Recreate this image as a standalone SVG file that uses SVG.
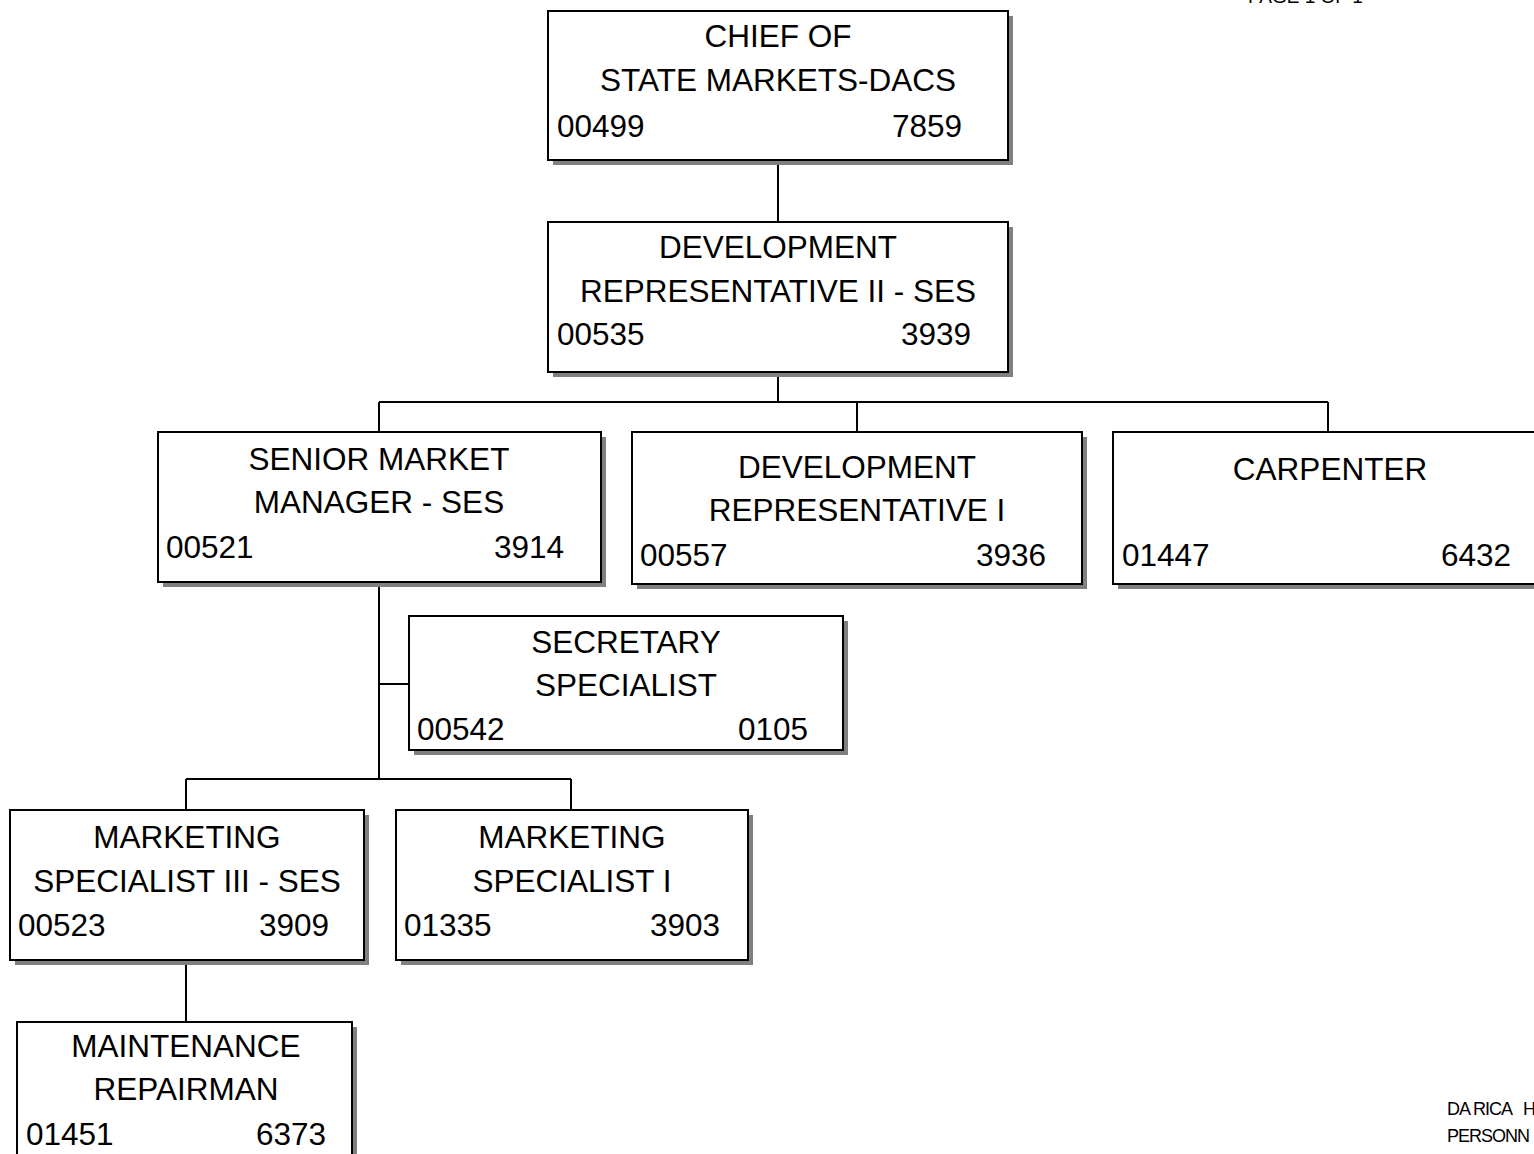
<svg xmlns="http://www.w3.org/2000/svg" width="1534" height="1154" viewBox="0 0 1534 1154">
  <style>
    .box { fill: #ffffff; stroke: #000000; stroke-width: 2; }
    .shadow { fill: #808080; }
    .t { font-family: "Liberation Sans", Arial, sans-serif; font-size: 31.5px; fill: #000000; }
    .c { text-anchor: middle; }
    .r { text-anchor: end; }
    .small { font-family: "Liberation Sans", Arial, sans-serif; font-size: 18px; fill: #000000; letter-spacing: -1px; white-space: pre; }
    .conn { stroke: #000000; stroke-width: 2; fill: none; }
  </style>
  <rect x="0" y="0" width="1534" height="1154" fill="#ffffff"/>

  <!-- header / footer notes -->
  <text class="small" x="1248" y="3" style="font-size:19px;letter-spacing:0">PAGE 1 OF 1</text>
  <text class="small" x="1447" y="1115">DA RICA   H</text>
  <text class="small" x="1447" y="1142">PERSONN</text>

  <!-- reporting lines -->
  <g id="connectors">
    <path class="conn" d="M778 160 V222"/>
    <path class="conn" d="M778 372 V402 M379 402 H1328 M379 402 V432 M857 402 V432 M1328 402 V432"/>
    <path class="conn" d="M379 582 V779 M379 684 H409 M186 779 H571 M186 779 V810 M571 779 V810"/>
    <path class="conn" d="M186 960 V1022"/>
  </g>

  <g id="chief">
    <rect class="shadow" x="553" y="16" width="460" height="149"/>
    <rect class="box" x="548" y="11" width="460" height="149"/>
    <text class="t c" x="778" y="47">CHIEF OF</text>
    <text class="t c" x="778" y="91">STATE MARKETS-DACS</text>
    <text class="t" x="557" y="137">00499</text>
    <text class="t r" x="962" y="137">7859</text>
  </g>

  <g id="dev-rep-2">
    <rect class="shadow" x="553" y="227" width="460" height="150"/>
    <rect class="box" x="548" y="222" width="460" height="150"/>
    <text class="t c" x="778" y="258">DEVELOPMENT</text>
    <text class="t c" x="778" y="302">REPRESENTATIVE II - SES</text>
    <text class="t" x="557" y="345">00535</text>
    <text class="t r" x="971" y="345">3939</text>
  </g>

  <g id="senior-market-manager">
    <rect class="shadow" x="163" y="437" width="443" height="150"/>
    <rect class="box" x="158" y="432" width="443" height="150"/>
    <text class="t c" x="379" y="470">SENIOR MARKET</text>
    <text class="t c" x="379" y="513">MANAGER - SES</text>
    <text class="t" x="166" y="558">00521</text>
    <text class="t r" x="564" y="558">3914</text>
  </g>

  <g id="dev-rep-1">
    <rect class="shadow" x="637" y="437" width="450" height="152"/>
    <rect class="box" x="632" y="432" width="450" height="152"/>
    <text class="t c" x="857" y="478">DEVELOPMENT</text>
    <text class="t c" x="857" y="521">REPRESENTATIVE I</text>
    <text class="t" x="640" y="566">00557</text>
    <text class="t r" x="1046" y="566">3936</text>
  </g>

  <g id="carpenter">
    <rect class="shadow" x="1118" y="437" width="450" height="152"/>
    <rect class="box" x="1113" y="432" width="450" height="152"/>
    <text class="t c" x="1330" y="480">CARPENTER</text>
    <text class="t" x="1122" y="566">01447</text>
    <text class="t r" x="1511" y="566">6432</text>
  </g>

  <g id="secretary-specialist">
    <rect class="shadow" x="414" y="621" width="434" height="134"/>
    <rect class="box" x="409" y="616" width="434" height="134"/>
    <text class="t c" x="626" y="653">SECRETARY</text>
    <text class="t c" x="626" y="696">SPECIALIST</text>
    <text class="t" x="417" y="740">00542</text>
    <text class="t r" x="808" y="740">0105</text>
  </g>

  <g id="marketing-specialist-3">
    <rect class="shadow" x="15" y="815" width="354" height="150"/>
    <rect class="box" x="10" y="810" width="354" height="150"/>
    <text class="t c" x="187" y="848">MARKETING</text>
    <text class="t c" x="187" y="892">SPECIALIST III - SES</text>
    <text class="t" x="18" y="936">00523</text>
    <text class="t r" x="329" y="936">3909</text>
  </g>

  <g id="marketing-specialist-1">
    <rect class="shadow" x="401" y="815" width="352" height="150"/>
    <rect class="box" x="396" y="810" width="352" height="150"/>
    <text class="t c" x="572" y="848">MARKETING</text>
    <text class="t c" x="572" y="892">SPECIALIST I</text>
    <text class="t" x="404" y="936">01335</text>
    <text class="t r" x="720" y="936">3903</text>
  </g>

  <g id="maintenance-repairman">
    <rect class="shadow" x="22" y="1027" width="335" height="150"/>
    <rect class="box" x="17" y="1022" width="335" height="150"/>
    <text class="t c" x="186" y="1057">MAINTENANCE</text>
    <text class="t c" x="186" y="1100">REPAIRMAN</text>
    <text class="t" x="26" y="1145">01451</text>
    <text class="t r" x="326" y="1145">6373</text>
  </g>
</svg>
